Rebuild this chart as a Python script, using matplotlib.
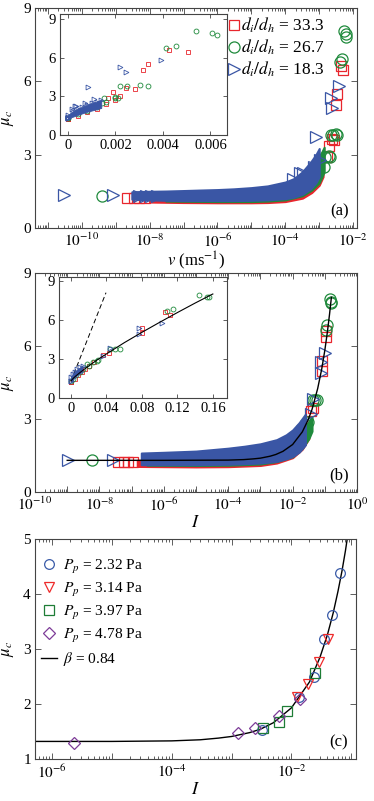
import matplotlib
matplotlib.use("Agg")
import matplotlib.pyplot as plt
import numpy as np
from matplotlib.ticker import FixedLocator, LogLocator, FuncFormatter, NullFormatter

# ---------------- panel (a): mu_c vs v ----------------
# dense bands of overlapping markers (visible lower / upper edge)
v_band_red = [1e-8, 1e-7, 1e-6, 1e-5, 3e-5, 1e-4, 3.2e-4, 6e-4, 1e-3, 1.3e-3]
mu_band_red_lo = [1.06, 1.04, 1.03, 1.03, 1.04, 1.08, 1.22, 1.45, 1.75, 2.1]
mu_band_red_hi = [1.30, 1.30, 1.32, 1.38, 1.45, 1.60, 1.95, 2.35, 2.8, 3.1]
v_band_green = [3e-8, 1e-6, 1e-5, 3e-5, 1e-4, 3.2e-4, 6e-4, 1e-3, 1.4e-3]
mu_band_green_lo = [1.10, 1.08, 1.08, 1.10, 1.15, 1.32, 1.55, 1.85, 2.3]
mu_band_green_hi = [1.30, 1.35, 1.42, 1.50, 1.66, 2.05, 2.45, 2.9, 3.3]
v_band_blue = [3e-9, 1e-8, 3e-8, 1e-7, 3e-7, 1e-6, 3e-6, 1e-5, 3e-5, 1e-4, 1.8e-4, 3.2e-4, 5.6e-4, 8e-4, 1e-3]
mu_band_blue_lo = [1.18, 1.15, 1.13, 1.12, 1.12, 1.12, 1.12, 1.13, 1.15, 1.20, 1.26, 1.38, 1.60, 1.85, 2.1]
mu_band_blue_hi = [1.48, 1.50, 1.51, 1.53, 1.55, 1.57, 1.60, 1.65, 1.72, 1.88, 2.02, 2.30, 2.70, 3.0, 3.25]

# isolated points
v_red = [2.2e-9, 3.4e-9, 4.8e-9, 7.1e-9, 0.00427, 0.00505, 0.00337, 0.00314, 0.00243, 0.00281, 0.0019, 0.0017]
mu_red = [1.22, 1.22, 1.22, 1.22, 6.64, 6.46, 5.48, 5.02, 3.62, 3.59, 3.36, 2.9]
v_green = [3.9e-10, 0.0054, 0.00607, 0.00626, 0.00413, 0.00455, 0.00221, 0.0025, 0.00303, 0.00337, 0.0015, 0.002, 0.0021, 0.00143]
mu_green = [1.32, 8.06, 7.93, 7.8, 6.77, 6.9, 3.8, 3.8, 3.85, 3.82, 2.9, 2.95, 2.9, 2.5]
v_blue = [2.95e-11, 8.1e-10, 5.0e-9, 7.9e-9, 1.1e-8, 1.6e-8, 0.00391, 0.00217, 0.00244, 0.00082,
          0.00034, 0.00072, 0.00108, 2.75e-4, 1.7e-4]
mu_blue = [1.36, 1.33, 1.30, 1.30, 1.30, 1.30, 5.79, 5.3, 4.9, 3.72,
           2.25, 2.5, 2.77, 2.26, 2.0]

# inset (a) cluster near the origin
v_clu_blue = [0, 2e-4, 4e-4, 6e-4, 8e-4, 1e-3, 1.2e-3, 1.4e-3]
mu_clu_blue_lo = [1.30, 1.42, 1.55, 1.68, 1.80, 1.90, 2.00, 2.10]
mu_clu_blue_hi = [1.55, 1.85, 2.05, 2.20, 2.35, 2.50, 2.60, 2.75]
v_clu_red = [0, 4e-4, 8e-4, 1.2e-3, 1.6e-3, 2e-3, 2.2e-3]
mu_clu_red = [1.25, 1.50, 1.78, 2.05, 2.40, 2.75, 3.0]
v_clu_green = [0, 4e-4, 8e-4, 1.2e-3, 1.6e-3, 2e-3]
mu_clu_green = [1.30, 1.60, 1.90, 2.20, 2.55, 2.85]

# ---------------- panel (b): mu_c vs I ----------------
I_band_red = [1.5e-7, 1e-6, 1e-5, 1e-4, 1e-3, 3.2e-3, 1e-2, 2e-2, 3.2e-2]
muI_band_red_lo = [1.05, 1.04, 1.03, 1.04, 1.09, 1.19, 1.41, 1.76, 2.2]
muI_band_red_hi = [1.30, 1.30, 1.32, 1.38, 1.50, 1.70, 2.00, 2.50, 2.9]
I_band_green = [3e-7, 1e-5, 1e-4, 1e-3, 3.2e-3, 1e-2, 2e-2, 3.2e-2, 4e-2]
muI_band_green_lo = [1.10, 1.09, 1.10, 1.15, 1.25, 1.45, 1.80, 2.20, 2.5]
muI_band_green_hi = [1.35, 1.40, 1.48, 1.60, 1.80, 2.10, 2.50, 2.90, 3.1]
I_band_blue = [2e-7, 1e-6, 1e-5, 1e-4, 3.2e-4, 1e-3, 3.2e-3, 6.3e-3, 1e-2, 1.6e-2, 2.5e-2]
muI_band_blue_lo = [1.12, 1.12, 1.12, 1.14, 1.16, 1.19, 1.26, 1.36, 1.46, 1.64, 1.94]
muI_band_blue_hi = [1.60, 1.63, 1.68, 1.80, 1.88, 1.98, 2.15, 2.35, 2.55, 2.85, 3.2]

I_red = [3.8e-8, 5.6e-8, 7.9e-8, 1.1e-7, 0.106, 0.1115, 0.0797, 0.0797, 0.0364, 0.0432]
muI_red = [1.25, 1.25, 1.25, 1.25, 6.61, 6.36, 5.4, 4.98, 3.33, 3.46]
I_green = [5.9e-9, 0.1446, 0.1529, 0.1558, 0.1085, 0.1153, 0.044, 0.0496, 0.0552, 0.0251, 0.029, 0.0177]
muI_green = [1.30, 7.93, 7.75, 7.8, 6.67, 6.87, 3.79, 3.79, 3.79, 2.78, 2.88, 2.58]
I_blue = [1.05e-9, 2.6e-8, 0.1022, 0.077, 0.077, 0.044, 0.0364]
muI_blue = [1.30, 1.30, 5.73, 5.35, 4.9, 3.84, 3.2]

I_clu_blue = [0, 0.002, 0.004, 0.007, 0.010, 0.013]
muI_clu_blue_lo = [1.25, 1.40, 1.55, 1.75, 1.90, 2.0]
muI_clu_blue_hi = [1.60, 1.85, 2.00, 2.20, 2.35, 2.5]
I_clu_red = [0, 0.004, 0.008, 0.012, 0.016, 0.020, 0.026]
muI_clu_red = [1.25, 1.50, 1.75, 2.00, 2.25, 2.45, 2.8]
I_clu_green = [0.002, 0.006, 0.010, 0.014, 0.020, 0.030]
muI_clu_green = [1.50, 1.75, 2.00, 2.25, 2.50, 2.9]

# fitted curve and the dashed line
I_fit = [1e-9, 1e-6, 1e-4, 3e-4, 6e-4, 1e-3, 2e-3, 3e-3, 5e-3, 1e-2, 2e-2, 3e-2, 4e-2,
         6e-2, 8e-2, 0.10, 0.12, 0.14, 0.16]
mu_fit = [1.30, 1.30, 1.31, 1.33, 1.36, 1.39, 1.47, 1.54, 1.67, 1.95, 2.47, 2.95, 3.39,
          4.25, 5.05, 5.82, 6.57, 7.30, 8.0]
I_dash = [0.0, 0.0395]
mu_dash = [1.3, 8.1]

# ---------------- panel (c) ----------------
I_c_232 = [3.2e-3, 1.35e-2, 2.35e-2, 3.45e-2, 4.7e-2, 6.45e-2]
mu_c_232 = [1.53, 2.13, 2.5, 3.18, 3.62, 4.38]
I_c_314 = [1.26e-2, 1.86e-2, 2.9e-2, 4.1e-2]
mu_c_314 = [2.12, 2.37, 2.77, 3.19]
I_c_397 = [3.4e-3, 6.1e-3, 8.3e-3, 2.45e-2]
mu_c_397 = [1.56, 1.68, 1.87, 2.57]
I_c_478 = [2.3e-6, 1.28e-3, 2.5e-3, 6.3e-3, 1.38e-2]
mu_c_478 = [1.29, 1.48, 1.56, 1.79, 2.1]
I_c_fit = [5e-7, 1e-5, 1e-4, 3e-4, 6e-4, 1e-3, 2e-3, 3e-3, 5e-3, 1e-2, 2e-2, 3e-2,
           4e-2, 5e-2, 6e-2, 7e-2, 8e-2, 9e-2]
mu_c_fit = [1.32, 1.32, 1.33, 1.35, 1.38, 1.41, 1.48, 1.54, 1.66, 1.93, 2.40, 2.85,
            3.26, 3.66, 4.05, 4.42, 4.79, 5.16]

# tick positions
decades_a = [1e-11, 1e-10, 1e-9, 1e-8, 1e-7, 1e-6, 1e-5, 1e-4, 1e-3, 1e-2]
decades_b = [1e-10, 1e-9, 1e-8, 1e-7, 1e-6, 1e-5, 1e-4, 1e-3, 1e-2, 1e-1, 1e0]
decades_c = [1e-6, 1e-5, 1e-4, 1e-3, 1e-2, 1e-1]

RED, GREEN, BLUE, PURPLE = "#e8262d", "#1f8a3c", "#3a56a5", "#7d3c98"
FRAME = "#444444"

plt.rcParams["font.family"] = ["Liberation Serif", "DejaVu Serif"]
plt.rcParams["mathtext.fontset"] = "stix"
plt.rcParams["axes.edgecolor"] = FRAME
plt.rcParams["axes.linewidth"] = 0.8


def style(ax, size=11, major=4, minor=2):
    ax.tick_params(which="both", direction="in", top=True, right=True,
                   colors=FRAME, labelcolor="black", labelsize=size, width=0.6)
    ax.tick_params(which="major", length=major, pad=3)
    ax.tick_params(which="minor", length=minor)


def log_x(ax, lo, hi, decades):
    ax.set_xscale("log")
    ax.xaxis.set_major_locator(FixedLocator(decades))
    ax.xaxis.set_minor_locator(LogLocator(base=10, subs=np.arange(2, 10), numticks=40))
    ax.xaxis.set_major_formatter(FuncFormatter(
        lambda x, _: r"$10^{%d}$" % round(np.log10(x)) if round(np.log10(x)) % 2 == 0 else ""))
    ax.xaxis.set_minor_formatter(NullFormatter())
    ax.set_xlim(lo, hi)


def band(ax, x, lo, hi, color, z):
    ax.fill_between(x, lo, hi, color=color, lw=1.5, zorder=z)


def pts(ax, x, y, color, marker, ms, mew, z, label=None):
    ax.plot(x, y, ls="none", marker=marker, ms=ms, mfc="none", mec=color, mew=mew,
            zorder=z, label=label)


def fit_legend_width(fig, leg, target_px):
    # shrink/grow legend font so the widest entry spans target_px pixels
    fig.canvas.draw()
    r = fig.canvas.get_renderer()
    w = max(t.get_window_extent(r).width for t in leg.get_texts())
    for t in leg.get_texts():
        t.set_fontsize(t.get_fontsize() * target_px / w)


fig = plt.figure(figsize=(3.74, 8.01), dpi=100)

# ---- (a) ----
ax = fig.add_axes([0.0936, 0.7154, 0.861, 0.2747])
band(ax, v_band_red, mu_band_red_lo, mu_band_red_hi, RED, 2)
band(ax, v_band_green, mu_band_green_lo, mu_band_green_hi, GREEN, 3)
band(ax, v_band_blue, mu_band_blue_lo, mu_band_blue_hi, BLUE, 4)
pts(ax, v_red, mu_red, RED, "s", 7, 0.9, 2, r"$d_i/d_h$ = 33.3")
pts(ax, v_green, mu_green, GREEN, "o", 8, 0.9, 3, r"$d_i/d_h$ = 26.7")
pts(ax, v_blue, mu_blue, BLUE, ">", 8, 0.9, 4, r"$d_i/d_h$ = 18.3")
log_x(ax, 4.2e-12, 1.3e-2, decades_a)
ax.set_ylim(0, 9)
ax.yaxis.set_major_locator(FixedLocator([0, 3, 6, 9]))
style(ax)
ax.set_ylabel(r"$\mu_c$", fontsize=12, labelpad=5)
ax.set_xlabel(r"$v$ (ms$^{-1}$)", fontsize=12, labelpad=0)
ax.text(0.975, 0.04, "(a)", transform=ax.transAxes, ha="right", va="bottom", fontsize=12)
leg_a = ax.legend(loc="upper left", bbox_to_anchor=(0.603, 0.965), frameon=False, fontsize=11.5,
                  handlelength=0.6, handletextpad=0.15, labelspacing=0.15, borderpad=0,
                  borderaxespad=0)

axi = fig.add_axes([0.1604, 0.8315, 0.4465, 0.151])
axi.fill_between(v_clu_blue, mu_clu_blue_lo, mu_clu_blue_hi, color=BLUE, lw=0.6, zorder=4)
pts(axi, v_clu_red, mu_clu_red, RED, "s", 3.5, 0.6, 2)
pts(axi, v_clu_green, mu_clu_green, GREEN, "o", 3.5, 0.6, 3)
pts(axi, v_clu_blue, mu_clu_blue_hi, BLUE, ">", 3.5, 0.6, 4)
pts(axi, v_red, mu_red, RED, "s", 3.5, 0.6, 2)
pts(axi, v_green, mu_green, GREEN, "o", 3.5, 0.6, 3)
pts(axi, v_blue, mu_blue, BLUE, ">", 3.5, 0.6, 4)
axi.set_xlim(-0.00034, 0.0067)
axi.set_ylim(0, 9.4)
axi.xaxis.set_major_locator(FixedLocator([0, 0.002, 0.004, 0.006]))
axi.yaxis.set_major_locator(FixedLocator([0, 3, 6, 9]))
axi.xaxis.set_major_formatter(FuncFormatter(lambda x, _: "%g" % x))
style(axi, size=10.5, major=3)

# ---- (b) ----
bx = fig.add_axes([0.0936, 0.3858, 0.861, 0.2734])
band(bx, I_band_red, muI_band_red_lo, muI_band_red_hi, RED, 2)
band(bx, I_band_green, muI_band_green_lo, muI_band_green_hi, GREEN, 3)
band(bx, I_band_blue, muI_band_blue_lo, muI_band_blue_hi, BLUE, 4)
pts(bx, I_red, muI_red, RED, "s", 7, 0.9, 2)
pts(bx, I_green, muI_green, GREEN, "o", 8, 0.9, 3)
pts(bx, I_blue, muI_blue, BLUE, ">", 8, 0.9, 4)
bx.plot(I_fit, mu_fit, color="black", lw=1.0, zorder=6)
log_x(bx, 1e-10, 1, decades_b)
bx.set_ylim(0, 9)
bx.yaxis.set_major_locator(FixedLocator([0, 3, 6, 9]))
style(bx)
bx.set_ylabel(r"$\mu_c$", fontsize=12, labelpad=5)
bx.set_xlabel(r"$I$", fontsize=13, labelpad=0)
bx.text(0.975, 0.04, "(b)", transform=bx.transAxes, ha="right", va="bottom", fontsize=12)

bxi = fig.add_axes([0.1578, 0.5031, 0.4492, 0.151])
bxi.plot(I_dash, mu_dash, color="black", lw=0.7, ls=(0, (5, 3)), zorder=1)
bxi.fill_between(I_clu_blue, muI_clu_blue_lo, muI_clu_blue_hi, color=BLUE, lw=0.6, zorder=4)
pts(bxi, I_clu_red, muI_clu_red, RED, "s", 3.5, 0.6, 2)
pts(bxi, I_clu_green, muI_clu_green, GREEN, "o", 3.5, 0.6, 3)
pts(bxi, I_clu_blue, muI_clu_blue_hi, BLUE, ">", 3.5, 0.6, 4)
pts(bxi, I_red, muI_red, RED, "s", 3.5, 0.6, 2)
pts(bxi, I_green, muI_green, GREEN, "o", 3.5, 0.6, 3)
pts(bxi, I_blue, muI_blue, BLUE, ">", 3.5, 0.6, 4)
bxi.plot(I_fit, mu_fit, color="black", lw=0.8, zorder=6)
bxi.set_xlim(-0.0135, 0.176)
bxi.set_ylim(0, 9.3)
bxi.xaxis.set_major_locator(FixedLocator([0, 0.04, 0.08, 0.12, 0.16]))
bxi.yaxis.set_major_locator(FixedLocator([0, 3, 6, 9]))
bxi.xaxis.set_major_formatter(FuncFormatter(lambda x, _: "%g" % x))
style(bxi, size=10.5, major=3)

# ---- (c) ----
cx = fig.add_axes([0.0936, 0.0524, 0.8583, 0.2747])
pts(cx, I_c_232, mu_c_232, "#3a5ba8", "o", 7, 0.9, 3, r"$P_p$ = 2.32 Pa")
pts(cx, I_c_314, mu_c_314, "#ee2b2b", "v", 7.5, 0.9, 3, r"$P_p$ = 3.14 Pa")
pts(cx, I_c_397, mu_c_397, "#1e7d36", "s", 6.5, 0.9, 3, r"$P_p$ = 3.97 Pa")
pts(cx, I_c_478, mu_c_478, PURPLE, "D", 6, 0.9, 3, r"$P_p$ = 4.78 Pa")
cx.plot(I_c_fit, mu_c_fit, color="black", lw=1.0, zorder=2, label=r"$\beta$ = 0.84")
log_x(cx, 5.2e-7, 0.12, decades_c)
cx.set_ylim(1, 5)
cx.yaxis.set_major_locator(FixedLocator([1, 2, 3, 4, 5]))
style(cx)
cx.set_ylabel(r"$\mu_c$", fontsize=12, labelpad=5)
cx.set_xlabel(r"$I$", fontsize=13, labelpad=0)
cx.text(0.975, 0.04, "(c)", transform=cx.transAxes, ha="right", va="bottom", fontsize=12)
leg_c = cx.legend(loc="upper left", bbox_to_anchor=(0.02, 0.915), frameon=False, fontsize=11,
                  handlelength=1.0, handletextpad=0.4, labelspacing=0.33, borderpad=0,
                  borderaxespad=0)

fit_legend_width(fig, leg_a, 84)
fit_legend_width(fig, leg_c, 80)

fig.savefig("out.png", dpi=100)
